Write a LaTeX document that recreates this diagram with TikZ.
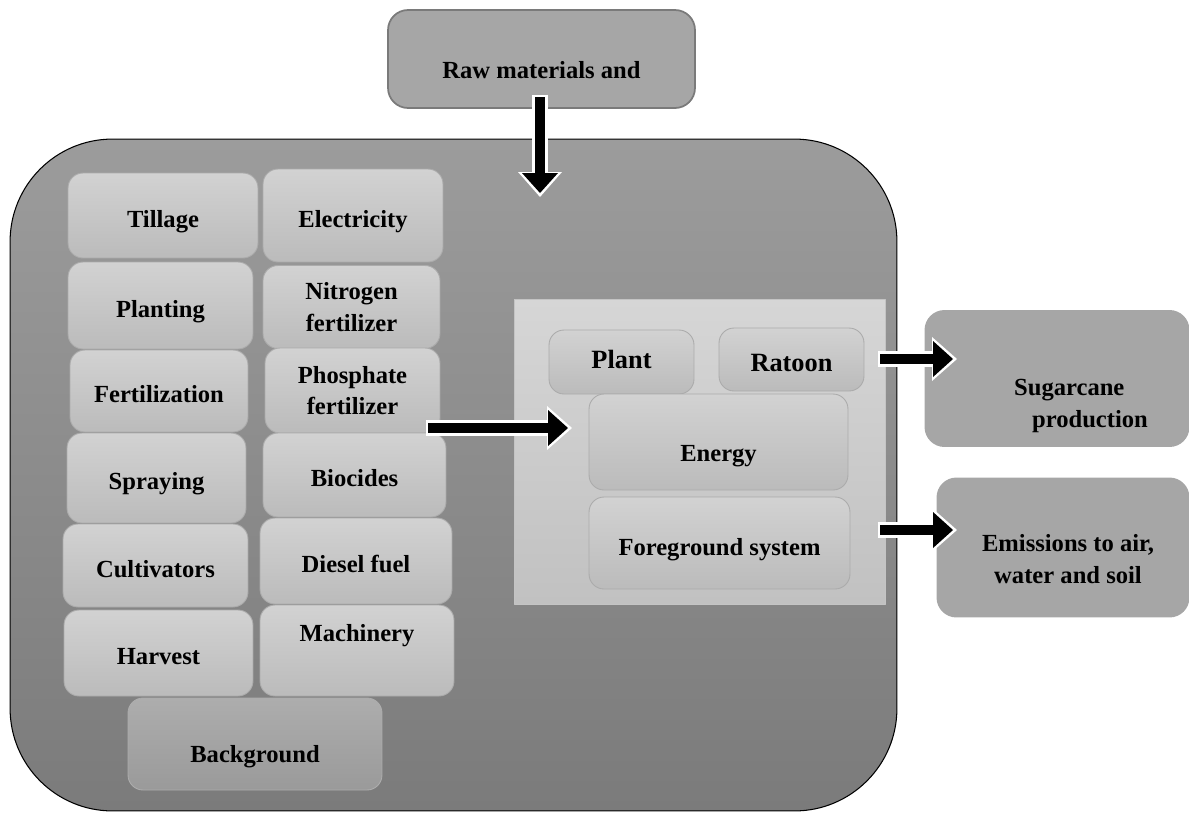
\documentclass[tikz,border=0pt]{standalone}
\usepackage{fontspec}
\setmainfont{Liberation Serif}
\usetikzlibrary{arrows.meta}
\definecolor{outertop}{HTML}{9C9C9C}
\definecolor{outerbot}{HTML}{7B7B7B}
\definecolor{celltop}{HTML}{D2D2D2}
\definecolor{cellbot}{HTML}{BBBBBB}
\definecolor{cellline}{HTML}{ABABAB}
\definecolor{bgtop}{HTML}{ADADAD}
\definecolor{bgbot}{HTML}{9A9A9A}
\definecolor{paneltop}{HTML}{D6D6D6}
\definecolor{panelbot}{HTML}{C1C1C1}
\definecolor{boxgray}{HTML}{A6A6A6}
\definecolor{rawline}{HTML}{7A7A7A}
\newcommand{\cellfont}{\bfseries\fontsize{14pt}{18pt}\selectfont}
\newcommand{\bigcellfont}{\bfseries\fontsize{15pt}{18pt}\selectfont}
\begin{document}
\begin{tikzpicture}[x=0.02cm, y=-0.02cm, line join=round,
  outerbox/.style={draw=black, line width=0.6pt, rounded corners=2.05cm, top color=outertop, bottom color=outerbot, inner sep=0pt},
  cell/.style={draw=cellline, line width=0.5pt, rounded corners=0.3cm, top color=celltop, bottom color=cellbot, inner sep=0pt, align=center, font=\cellfont},
  onecell/.style={cell, textdrop=0.46cm},
  bgcell/.style={cell, draw=bgtop, top color=bgtop, bottom color=bgbot},
  panel/.style={draw=cellline!70, line width=0.5pt, top color=paneltop, bottom color=panelbot, inner sep=0pt},
  sidebox/.style={fill=boxgray, rounded corners=0.4cm, inner sep=0pt},
  lbl/.style={font=\cellfont, inner sep=0pt},
  textdrop/.style={text height=#1, text depth=0pt},
  textlift/.style={text depth=#1, text height=0pt},
  blockarrow/.style={draw=black, line width=0.21cm, -{Triangle[width=0.72cm, length=0.4cm, line width=0pt]},
    preaction={draw=white, line width=0.31cm, shorten >=-0.08cm, shorten <=-0.05cm, -{Triangle[width=0.88cm, length=0.5cm, line width=0pt]}}}]
\useasboundingbox (0,0) rectangle (1189,812);
% Inputs from outside
\node[sidebox, draw=rawline, line width=1pt, minimum width=6.14cm, minimum height=1.96cm, font=\cellfont, textdrop=0.76cm] (raw) at (541.5,59) {Raw materials and};
% Large background system
\node[outerbox, minimum width=17.74cm, minimum height=13.44cm] (outer) at (453.5,475) {};
% Left column of processes
\node[onecell, minimum width=3.8cm, minimum height=1.7cm] (tillage) at (163,215.5) {Tillage};
\node[onecell, minimum width=3.7cm, minimum height=1.74cm] (planting) at (160.5,305.5) {Planting};
\node[onecell, minimum width=3.56cm, minimum height=1.64cm] (fertilization) at (159,391) {Fertilization};
\node[onecell, minimum width=3.58cm, minimum height=1.8cm] (spraying) at (156.5,478) {Spraying};
\node[onecell, minimum width=3.7cm, minimum height=1.66cm] (cultivators) at (155.5,565.5) {Cultivators};
\node[onecell, minimum width=3.78cm, minimum height=1.72cm] (harvest) at (158.5,653) {Harvest};
% Right column of inputs
\node[onecell, minimum width=3.6cm, minimum height=1.86cm] (electricity) at (353,215.5) {Electricity};
\node[cell, minimum width=3.54cm, minimum height=1.66cm] (nitrogen) at (351.5,307) {Nitrogen\\fertilizer};
\node[cell, minimum width=3.5cm, minimum height=1.7cm] (phosphate) at (352.5,390.5) {Phosphate\\fertilizer};
\node[onecell, minimum width=3.66cm, minimum height=1.68cm] (biocides) at (354.5,475) {Biocides};
\node[onecell, minimum width=3.84cm, minimum height=1.72cm] (diesel) at (356,561) {Diesel fuel};
\node[cell, minimum width=3.88cm, minimum height=1.82cm, textlift=0.38cm] (machinery) at (357,650.5) {Machinery};
\node[bgcell, minimum width=5.08cm, minimum height=1.84cm, textdrop=0.72cm] (background) at (255,744) {Background};
% Foreground system panel
\node[panel, minimum width=7.42cm, minimum height=6.1cm] (fgpanel) at (699.5,451.5) {};
\node[cell, font=\bigcellfont, minimum width=2.9cm, minimum height=1.28cm, textdrop=0.26cm] (plant) at (621.5,362) {Plant};
\node[cell, font=\bigcellfont, minimum width=2.9cm, minimum height=1.26cm, textdrop=0.48cm] (ratoon) at (791.5,359.5) {Ratoon};
\node[cell, minimum width=5.18cm, minimum height=1.92cm, textdrop=0.76cm] (energy) at (718.5,442) {Energy};
\node[cell, minimum width=5.22cm, minimum height=1.84cm, textdrop=0.48cm] (foreground) at (719.5,543) {Foreground system};
% Outputs
\node[sidebox, minimum width=5.3cm, minimum height=2.74cm] (sugar) at (1057,378.5) {};
\node[lbl, align=left] (sugartext) at (1081,406) {Sugarcane\\\hspace*{0.36cm}production};
\node[sidebox, minimum width=5.06cm, minimum height=2.8cm] (emis) at (1063,547.5) {};
\node[lbl, align=center] (emistext) at (1068,559) {Emissions to air,\\water and soil};
% Flows
\coordinate (rawtail) at (540,97);
\coordinate (rawhead) at (540,193);
\coordinate (inputtail) at (428,428);
\coordinate (inputhead) at (568,428);
\coordinate (prodtail) at (880,359);
\coordinate (prodhead) at (953,359);
\coordinate (emistail) at (880,530);
\coordinate (emishead) at (953,530);
\draw[blockarrow] (rawtail) -- (rawhead);
\draw[blockarrow] (inputtail) -- (inputhead);
\draw[blockarrow] (prodtail) -- (prodhead);
\draw[blockarrow] (emistail) -- (emishead);
\end{tikzpicture}
\end{document}
